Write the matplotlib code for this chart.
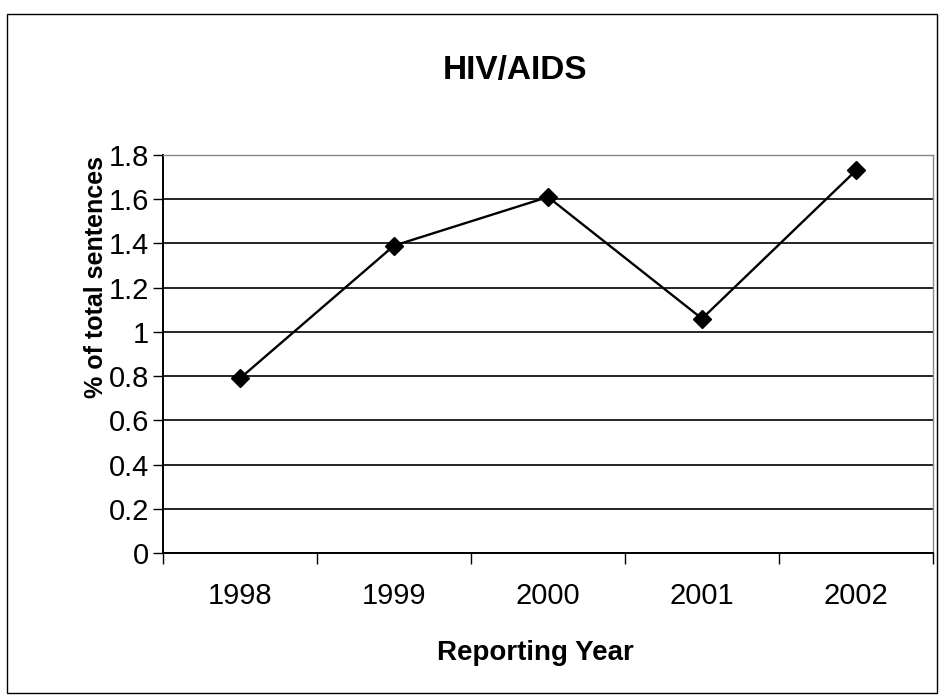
import matplotlib
matplotlib.use("Agg")
import matplotlib.pyplot as plt
from matplotlib.patches import Rectangle

plt.rcParams['font.family'] = ['Liberation Sans', 'DejaVu Sans']

years = ["1998", "1999", "2000", "2001", "2002"]
pct_sentences = [0.79, 1.39, 1.61, 1.06, 1.73]
y_ticks = [0, 0.2, 0.4, 0.6, 0.8, 1, 1.2, 1.4, 1.6, 1.8]
y_tick_labels = ["0", "0.2", "0.4", "0.6", "0.8", "1", "1.2", "1.4", "1.6", "1.8"]

W, H = 939, 697
fig = plt.figure(figsize=(W / 100, H / 100), dpi=100)
fig.patch.set_facecolor("white")

# outer chart border
fig.add_artist(Rectangle((7 / W, 1 - 693 / H), (937 - 7) / W, (693 - 14) / H,
                         transform=fig.transFigure, fill=False,
                         edgecolor="black", linewidth=1.0))

left, right, top, bottom = 163, 933, 155, 553
ax = fig.add_axes([left / W, 1 - bottom / H, (right - left) / W, (bottom - top) / H])

x = list(range(len(years)))
ax.plot(x, pct_sentences, color="black", linewidth=1.7, marker="D",
        markersize=9, markerfacecolor="black", markeredgecolor="black", zorder=3)

ax.set_xlim(-0.5, len(years) - 0.5)
ax.set_ylim(0, 1.8)
ax.set_yticks(y_ticks)
ax.set_yticklabels(y_tick_labels)
ax.set_xticks(x)
ax.set_xticklabels(years)
ax.set_xticks([i - 0.5 for i in range(len(years) + 1)], minor=True)

ax.yaxis.grid(True, color="black", linewidth=1.2)
ax.set_axisbelow(True)

ax.tick_params(axis="y", which="major", length=7, width=1, direction="out",
               labelsize=21, pad=3, colors="black")
ax.tick_params(axis="x", which="major", length=0, labelsize=21, pad=21)
ax.tick_params(axis="x", which="minor", length=8, width=1, direction="out")

for side in ("left", "bottom"):
    ax.spines[side].set_color("black")
    ax.spines[side].set_linewidth(1.4)
for side in ("top", "right"):
    ax.spines[side].set_color("#888888")
    ax.spines[side].set_linewidth(1.0)
    ax.spines[side].set_linestyle((0, (1, 1)))

fig.text(515 / W, 1 - 70 / H, "HIV/AIDS", ha="center", va="center",
         fontsize=24, fontweight="bold")
fig.text(535 / W, 1 - 653 / H, "Reporting Year", ha="center", va="center",
         fontsize=20, fontweight="bold")
fig.text(96 / W, 1 - 277 / H, "% of total sentences", ha="center", va="center",
         rotation=90, fontsize=18, fontweight="bold")

fig.savefig("out.png", dpi=100)
